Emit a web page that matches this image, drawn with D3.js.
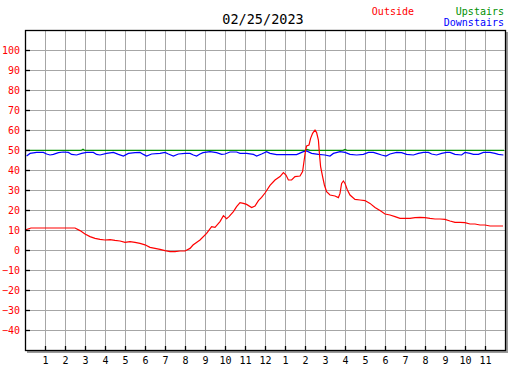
<!DOCTYPE html>
<html>
<head>
<meta charset="utf-8">
<script src="https://cdn.jsdelivr.net/npm/d3@7"></script>
<style>
body { margin: 0; background: #fff; }
text { font-family: "DejaVu Sans Mono", monospace; }
</style>
</head>
<body>
<div id="chart"></div>
<script>
var width = 527,
    height = 370,
    margin = {top: 30, right: 22, bottom: 20, left: 25};

var title = "02/25/2023";
var seriesNames = ["Outside", "Upstairs", "Downstairs"];
var seriesColors = ["#ff0000", "#009000", "#0000ff"];

var yTicks = [-40, -30, -20, -10, 0, 10, 20, 30, 40, 50, 60, 70, 80, 90, 100];
var hourTicks = d3.range(1, 24);

// outside temperature, [hour, value]
var outsideHours = [0, 0.3, 1, 2, 2.5, 2.75, 3, 3.25, 3.5, 3.75, 4, 4.25, 4.5, 4.75, 5, 5.25, 5.5, 5.75, 6, 6.25, 6.5, 6.75,
  7, 7.25, 7.5, 7.75, 8, 8.25, 8.4, 8.75, 9.08, 9.33, 9.5, 9.75, 9.92, 10.08, 10.2, 10.42, 10.58, 10.75, 10.92, 11.08,
  11.33, 11.5, 11.67, 11.83, 12, 12.25, 12.5, 12.75, 12.92, 13.05, 13.17, 13.33, 13.5, 13.75, 13.88, 13.96, 14.03, 14.08,
  14.2, 14.28, 14.38, 14.5, 14.58, 14.67, 14.72, 14.78, 14.88, 14.97, 15.08, 15.25, 15.5, 15.67, 15.75, 15.83, 15.92, 16,
  16.12, 16.25, 16.5, 16.75, 17, 17.25, 17.5, 17.75, 18, 18.25, 18.5, 18.75, 19, 19.25, 19.5, 19.75, 20, 20.25, 20.5,
  20.75, 21, 21.25, 21.5, 21.75, 22, 22.25, 22.5, 22.75, 23, 23.25, 23.5, 23.9];
var outsideTemps = [10, 11, 11, 11, 11, 9.7, 8, 6.7, 5.8, 5.3, 5, 5.2, 4.8, 4.5, 3.8, 4.2, 3.8, 3.3, 2.6, 1.3, 0.8, 0.3,
  -0.3, -0.8, -0.8, -0.5, -0.5, 0.8, 2.5, 5, 8.3, 11.7, 11.3, 14.2, 17.2, 15.7, 16.7, 19.2, 21.7, 23.7, 23.3, 22.8,
  21.2, 22, 24.7, 26.3, 28.5, 32.3, 35, 36.7, 38.7, 37.5, 35, 35, 36.7, 37, 39.2, 45, 50, 52,
  52.5, 55.8, 58.3, 60, 58.7, 55, 48.3, 41.7, 36.7, 32.5, 29.2, 27.5, 27, 26.2, 28.3, 33.3, 34.5, 33.3,
  30, 27.5, 25.3, 25, 24.7, 23.3, 21.3, 19.7, 18, 17.5, 16.7, 15.8, 15.8, 15.8, 16.2, 16.3, 16.2, 15.8, 15.5,
  15.5, 15.3, 14.5, 13.8, 13.8, 13.7, 13, 13, 12.5, 12.5, 12, 12, 12];

var upstairsHours = [0, 2.8, 2.9, 3.0, 14.0, 14.1, 14.25, 15.9, 16.0, 16.1, 23.95];
var upstairsTemps = [49.8, 49.8, 50.4, 49.8, 49.8, 50.3, 49.8, 49.8, 50.3, 49.8, 49.8];

var downstairsHours = [0.08, 0.25, 0.58, 0.92, 1.08, 1.25, 1.42, 1.67, 1.92, 2.17, 2.33, 2.58, 2.83, 3.08, 3.42, 3.58,
  3.75, 4.08, 4.42, 4.67, 4.92, 5.17, 5.5, 5.75, 5.92, 6.08, 6.33, 6.75, 7, 7.17, 7.42, 7.67, 8, 8.25, 8.42, 8.58, 8.75,
  8.9, 9.25, 9.58, 9.83, 10, 10.25, 10.58, 10.75, 11.08, 11.42, 11.58, 11.83, 12.08, 12.25, 12.58, 13.08, 13.58, 13.92,
  14.08, 14.33, 14.67, 15, 15.25, 15.42, 15.75, 16, 16.25, 16.58, 16.92, 17.17, 17.42, 17.58, 17.83, 18.05, 18.25, 18.58,
  18.83, 19.08, 19.42, 19.67, 19.92, 20.17, 20.33, 20.58, 20.83, 21.08, 21.25, 21.5, 21.83, 22, 22.25, 22.42, 22.67,
  22.92, 23.25, 23.5, 23.67, 23.92];
var downstairsTemps = [47, 48.3, 48.8, 48.8, 48, 47.5, 47.8, 48.7, 49, 48.8, 47.8, 47.5, 48.3, 48.8, 48.8, 47.8,
  47.5, 48.3, 48.8, 47.8, 47, 48.3, 48.7, 48.8, 47.8, 47, 48, 48.3, 48.8, 48, 47, 48, 48.3, 48.3, 47.5, 47, 48,
  48.7, 49.2, 48.7, 47.8, 48, 49, 49, 48.3, 48.3, 47.8, 47, 48, 49.2, 48.3, 47.7, 47.7, 47.7, 49.2,
  49.5, 48.3, 47.8, 47.5, 47, 48.3, 49.2, 48.8, 47.8, 47.5, 47.8, 48.8, 48.8, 48.3, 47.5, 47, 48, 48.8,
  48.7, 47.8, 47.5, 48.3, 48.8, 48.8, 48, 47.5, 48.3, 48.8, 48.8, 47.8, 47.5, 48.8, 48.3, 47.8, 47.8,
  48.8, 48.8, 48.3, 47.8, 47.5];

var x = d3.scaleLinear().domain([0, 24]).range([margin.left, width - margin.right]),
    y = d3.scaleLinear().domain([-50, 110]).range([height - margin.bottom, margin.top]);

var svg = d3.select("#chart").append("svg")
    .attr("width", width)
    .attr("height", height);

// drop shadow of the frame
svg.append("rect")
    .attr("x", margin.left + 2)
    .attr("y", margin.top + 2)
    .attr("width", x(24) - margin.left + 1)
    .attr("height", y(-50) - margin.top + 1)
    .attr("fill", "#9a9a9a");
svg.append("rect")
    .attr("x", margin.left)
    .attr("y", margin.top)
    .attr("width", x(24) - margin.left)
    .attr("height", y(-50) - margin.top)
    .attr("fill", "#fff");

// grid
svg.append("g").selectAll("line.h")
    .data(yTicks.concat([]))
  .enter().append("line")
    .attr("x1", margin.left).attr("x2", x(24))
    .attr("y1", function(d) { return Math.round(y(d)) + 0.5; })
    .attr("y2", function(d) { return Math.round(y(d)) + 0.5; })
    .attr("stroke", "#a6a6a6");
svg.append("g").selectAll("line.v")
    .data(hourTicks)
  .enter().append("line")
    .attr("y1", margin.top).attr("y2", y(-50))
    .attr("x1", function(d) { return Math.round(x(d)) + 0.5; })
    .attr("x2", function(d) { return Math.round(x(d)) + 0.5; })
    .attr("stroke", "#a6a6a6");

// series
var line = d3.line()
    .x(function(d) { return x(d[0]); })
    .y(function(d) { return y(d[1]); });

function pairs(hours, temps) {
  return hours.map(function(h, i) { return [h, temps[i]]; });
}

var series = [
  pairs(upstairsHours, upstairsTemps),
  pairs(downstairsHours, downstairsTemps),
  pairs(outsideHours, outsideTemps)
];
var seriesColorOrder = [seriesColors[1], seriesColors[2], seriesColors[0]];

svg.append("g").selectAll("path")
    .data(series)
  .enter().append("path")
    .attr("d", line)
    .attr("fill", "none")
    .attr("stroke", function(d, i) { return seriesColorOrder[i]; })
    .attr("stroke-width", 1.2);

// frame
svg.append("rect")
    .attr("x", margin.left + 0.5)
    .attr("y", margin.top + 0.5)
    .attr("width", x(24) - margin.left)
    .attr("height", y(-50) - margin.top)
    .attr("fill", "none")
    .attr("stroke", "#000")
    .attr("stroke-width", 1.3);

// axes
var yAxis = d3.axisLeft(y)
    .tickValues(yTicks)
    .tickSizeInner(-5)
    .tickSizeOuter(0)
    .tickPadding(5);

var xAxis = d3.axisBottom(x)
    .tickValues(hourTicks)
    .tickFormat(function(d) { return d % 12 === 0 ? 12 : d % 12; })
    .tickSizeInner(-4)
    .tickSizeOuter(0)
    .tickPadding(7);

var gy = svg.append("g")
    .attr("transform", "translate(" + margin.left + ",0)")
    .call(yAxis);
gy.select(".domain").remove();
gy.selectAll("line").attr("stroke", "#000").attr("stroke-width", 1.3);
gy.selectAll("text")
    .attr("fill", "#ff0000")
    .style("font-family", "DejaVu Sans Mono")
    .style("font-size", "10px");

var gx = svg.append("g")
    .attr("transform", "translate(0," + y(-50) + ")")
    .call(xAxis);
gx.select(".domain").remove();
gx.selectAll("line").attr("stroke", "#000").attr("stroke-width", 1.3);
gx.selectAll("text")
    .attr("fill", "#000")
    .style("font-family", "DejaVu Sans Mono")
    .style("font-size", "10px");

// title and legend
svg.append("text")
    .attr("x", 263)
    .attr("y", 24)
    .attr("text-anchor", "middle")
    .style("font-size", "13.5px")
    .attr("fill", "#000")
    .text(title);

svg.append("text")
    .attr("x", 414)
    .attr("y", 15)
    .attr("text-anchor", "end")
    .style("font-size", "10px")
    .attr("fill", seriesColors[0])
    .text(seriesNames[0]);

svg.append("text")
    .attr("x", 504)
    .attr("y", 15)
    .attr("text-anchor", "end")
    .style("font-size", "10px")
    .attr("fill", seriesColors[1])
    .text(seriesNames[1]);

svg.append("text")
    .attr("x", 504)
    .attr("y", 26)
    .attr("text-anchor", "end")
    .style("font-size", "10px")
    .attr("fill", seriesColors[2])
    .text(seriesNames[2]);
</script>
</body>
</html>
